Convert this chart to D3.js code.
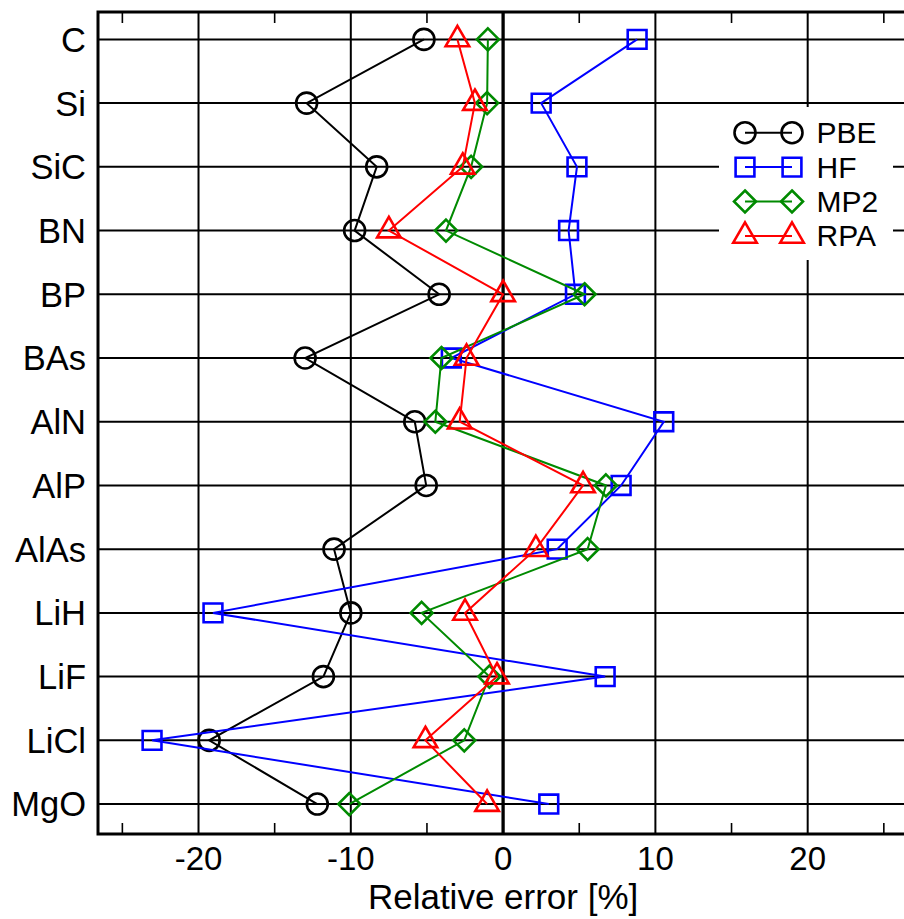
<!DOCTYPE html>
<html>
<head>
<meta charset="utf-8">
<script src="https://cdn.jsdelivr.net/npm/d3@7"></script>
<style>
  html, body { margin: 0; padding: 0; background: #fff; overflow: hidden; }
  svg { display: block; }
  text { font-family: "Liberation Sans", Arial, Helvetica, sans-serif; fill: #000; }
</style>
</head>
<body>
<svg id="chart" width="904" height="919"></svg>
<script>
// Materials, top to bottom
const categories = ["C", "Si", "SiC", "BN", "BP", "BAs", "AlN", "AlP", "AlAs", "LiH", "LiF", "LiCl", "MgO"];

// Relative error [%] of each method per material
const pbe = [-5.2, -12.9, -8.3, -9.75, -4.2, -13.0, -5.8, -5.05, -11.1, -10.0, -11.8, -19.3, -12.2];
const hf  = [8.8, 2.5, 4.85, 4.3, 4.75, -3.4, 10.55, 7.75, 3.55, -19.05, 6.7, -23.05, 3.0];
const mp2 = [-1.0, -1.05, -2.1, -3.75, 5.35, -4.05, -4.45, 6.75, 5.55, -5.35, -0.9, -2.55, -10.1];
const rpa = [-3.0, -1.85, -2.65, -7.5, 0.0, -2.4, -2.85, 5.25, 2.15, -2.5, -0.4, -5.1, -1.05];

const seriesNames = ["PBE", "HF", "MP2", "RPA"];
const majorTicks = [-20, -10, 0, 10, 20];
const minorTicks = [-25, -15, -5, 5, 15, 25];
const xTitle = "Relative error [%]";

const series = [
  { name: seriesNames[0], values: pbe, color: "#000000", symbol: "circle" },
  { name: seriesNames[1], values: hf,  color: "#0000ff", symbol: "square" },
  { name: seriesNames[2], values: mp2, color: "#008a00", symbol: "diamond" },
  { name: seriesNames[3], values: rpa, color: "#ff0000", symbol: "triangle" }
];

const svg = d3.select("#chart");
const plot = { left: 98, right: 908.2, top: 12, bottom: 834 };

const x = d3.scaleLinear().domain([-26.6, 26.6]).range([plot.left, plot.right]);
const y = d3.scaleLinear().domain([-0.43, 12.47]).range([plot.top, plot.bottom]);

// hollow marker outlines, centred on the data point
function symbolPath(type) {
  if (type === "circle") {
    const r = 10.5;
    return `M${-r},0A${r},${r} 0 1,0 ${r},0A${r},${r} 0 1,0 ${-r},0Z`;
  }
  if (type === "square") {
    const h = 9.4;
    return `M${-h},${-h}H${h}V${h}H${-h}Z`;
  }
  if (type === "diamond") {
    const h = 11;
    return `M0,${-h}L${h},0L0,${h}L${-h},0Z`;
  }
  // triangle centred on its centroid
  const u = 6.8, w = Math.sqrt(3) * u;
  return `M0,${-2 * u}L${w},${u}L${-w},${u}Z`;
}

// horizontal row lines
svg.append("g")
  .selectAll("line")
  .data(categories)
  .join("line")
  .attr("x1", plot.left).attr("x2", plot.right)
  .attr("y1", (d, i) => y(i)).attr("y2", (d, i) => y(i))
  .attr("stroke", "#000").attr("stroke-width", 2);

// vertical grid at major ticks
svg.append("g")
  .selectAll("line")
  .data(majorTicks)
  .join("line")
  .attr("x1", d => x(d)).attr("x2", d => x(d))
  .attr("y1", plot.top).attr("y2", plot.bottom)
  .attr("stroke", "#000")
  .attr("stroke-width", d => d === 0 ? 3.3 : 2);

// minor ticks on top and bottom edges
const minor = svg.append("g");
minorTicks.forEach(t => {
  minor.append("line")
    .attr("x1", x(t)).attr("x2", x(t))
    .attr("y1", plot.bottom).attr("y2", plot.bottom - 11)
    .attr("stroke", "#000").attr("stroke-width", 1.6);
  minor.append("line")
    .attr("x1", x(t)).attr("x2", x(t))
    .attr("y1", plot.top).attr("y2", plot.top + 11)
    .attr("stroke", "#000").attr("stroke-width", 1.6);
});

// legend background hides the grid behind it
const legend = { x0: 719, y0: 107, w: 174, h: 153, row0: 132.7, dy: 34.4, l1: 745, l2: 792, tx: 816.5 };
svg.append("rect")
  .attr("x", legend.x0).attr("y", legend.y0)
  .attr("width", legend.w).attr("height", legend.h)
  .attr("fill", "#fff");

// frame: left, top, bottom
svg.append("path")
  .attr("d", `M${plot.right + 2},${plot.top}H${plot.left}V${plot.bottom}H${plot.right + 2}`)
  .attr("fill", "none").attr("stroke", "#000").attr("stroke-width", 3);
svg.append("line")
  .attr("x1", plot.right).attr("x2", plot.right)
  .attr("y1", plot.top).attr("y2", plot.bottom)
  .attr("stroke", "#000").attr("stroke-width", 3);

// x tick labels
svg.append("g")
  .selectAll("text")
  .data(majorTicks)
  .join("text")
  .attr("x", d => x(d))
  .attr("y", 869.5)
  .attr("text-anchor", "middle")
  .attr("font-size", 33)
  .text(d => d);

// x axis title
svg.append("text")
  .attr("x", x(0))
  .attr("y", 908.5)
  .attr("text-anchor", "middle")
  .attr("font-size", 35)
  .text(xTitle);

// category labels
svg.append("g")
  .selectAll("text")
  .data(categories)
  .join("text")
  .attr("x", plot.left - 12)
  .attr("y", (d, i) => y(i))
  .attr("dy", "0.36em")
  .attr("text-anchor", "end")
  .attr("font-size", 34.5)
  .text(d => d);

// data series
const line = d3.line().x(d => x(d.v)).y(d => y(d.i));
series.forEach(s => {
  const pts = s.values.map((v, i) => ({ v, i }));
  const g = svg.append("g");
  g.append("path")
    .datum(pts)
    .attr("d", line)
    .attr("fill", "none")
    .attr("stroke", s.color)
    .attr("stroke-width", 2);
  g.selectAll("path.mark")
    .data(pts)
    .join("path")
    .attr("class", "mark")
    .attr("transform", d => `translate(${x(d.v)},${y(d.i)})`)
    .attr("d", symbolPath(s.symbol))
    .attr("fill", "none")
    .attr("stroke", s.color)
    .attr("stroke-width", 2.6);
});

// legend entries
series.forEach((s, k) => {
  const yy = legend.row0 + k * legend.dy;
  const g = svg.append("g");
  g.append("line")
    .attr("x1", legend.l1).attr("x2", legend.l2)
    .attr("y1", yy).attr("y2", yy)
    .attr("stroke", s.color).attr("stroke-width", 2);
  [legend.l1, legend.l2].forEach(px => {
    g.append("path")
      .attr("transform", `translate(${px},${yy})`)
      .attr("d", symbolPath(s.symbol))
      .attr("fill", "none")
      .attr("stroke", s.color)
      .attr("stroke-width", 2.6);
  });
  g.append("text")
    .attr("x", legend.tx)
    .attr("y", yy)
    .attr("dy", "0.35em")
    .attr("font-size", 30)
    .text(s.name);
});
</script>
</body>
</html>
